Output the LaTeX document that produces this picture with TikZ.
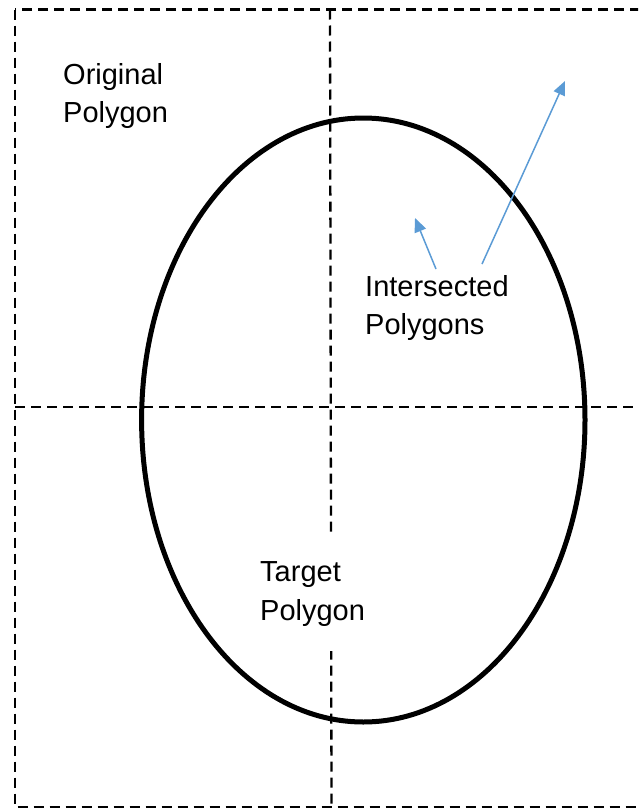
\documentclass[tikz,border=0pt]{standalone}
\usepackage{fontspec}
\setmainfont{Liberation Sans}
\usetikzlibrary{arrows.meta, shapes}

\definecolor{ptrblue}{RGB}{91,155,213}

\begin{document}
\begin{tikzpicture}[x=1pt, y=-1pt,
  grid/.style={dash pattern=on 10pt off 6pt, line width=2.3pt},
  lbl/.style={anchor=west, align=left, inner sep=0pt,
    font=\fontsize{29}{38.5}\selectfont},
  ptr/.style={-{Triangle[length=14pt,width=12pt]}, draw=ptrblue, line width=1.5pt}]

  \useasboundingbox (0,0) rectangle (638,811);
  \clip (0,0) rectangle (638,811);

  % cells of the original polygon
  \draw[grid] (15,9.5) rectangle (650,807);
  \draw[grid] (15,407) -- (650,407);
  \draw[grid] (330,9.5) -- (331.5,807);

  % target polygon
  \draw[line width=5pt] (363.3,420) ellipse [x radius=221.7, y radius=302];

  \node[lbl] (orig) at (63,96) {Original\\Polygon};
  \node[lbl] (inter) at (365,308) {Intersected\\Polygons};
  \node[lbl, fill=white, inner ysep=25pt, inner xsep=2pt] (target) at (258,594) {Target\\Polygon};

  \coordinate (tipA) at (415,218);
  \coordinate (tipB) at (565,81);

  \path
    ([xshift=71pt,yshift=6pt]inter.north west) edge[ptr] (tipA)
    ([xshift=117pt,yshift=11pt]inter.north west) edge[ptr] (tipB);
\end{tikzpicture}
\end{document}
